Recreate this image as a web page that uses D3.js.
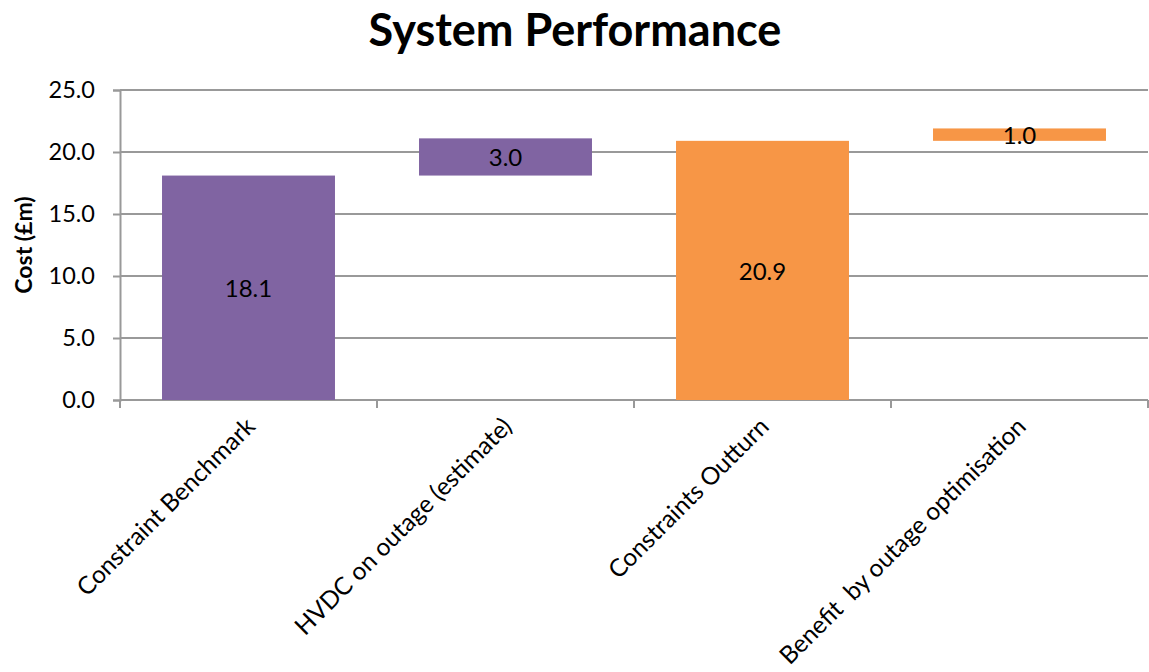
<!DOCTYPE html>
<html>
<head>
<meta charset="utf-8">
<script src="https://cdn.jsdelivr.net/npm/d3@7"></script>
<style>
  body { margin: 0; background: #fff; }
  text { font-family: Lato, "Open Sans", sans-serif; }
</style>
</head>
<body>
<div id="chart"></div>
<script>
// waterfall data
const categories = ["Constraint Benchmark", "HVDC on outage (estimate)", "Constraints Outturn", "Benefit  by outage optimisation"];
const bases = [0, 18.1, 0, 20.9];
const values = [18.1, 3.0, 20.9, 1.0];
const barColors = ["#8064a2", "#8064a2", "#f79646", "#f79646"];
const yTicks = [0, 5, 10, 15, 20, 25];

const width = 1149, height = 672;
const margin = {top: 90, right: 1, left: 120, bottom: 272};

const svg = d3.select("#chart").append("svg")
    .attr("width", width)
    .attr("height", height);

const x = d3.scaleBand()
    .domain(categories)
    .range([margin.left, width - margin.right])
    .paddingInner(0.327)
    .paddingOuter(0.1635);

const y = d3.scaleLinear()
    .domain([0, 25])
    .range([height - margin.bottom, margin.top]);

// grid
svg.append("g")
    .selectAll("line")
    .data(yTicks)
    .join("line")
    .attr("x1", margin.left)
    .attr("x2", width - margin.right)
    .attr("y1", d => y(d))
    .attr("y2", d => y(d))
    .attr("stroke", "#999")
    .attr("stroke-width", 2);

// y axis
const yAxis = svg.append("g")
    .attr("transform", `translate(${margin.left},0)`)
    .call(d3.axisLeft(y).tickValues(yTicks).tickFormat(d3.format(".1f")).tickSize(7).tickPadding(18));
yAxis.select(".domain").attr("stroke", "#999").attr("stroke-width", 2);
yAxis.selectAll(".tick line").attr("stroke", "#999").attr("stroke-width", 2);
yAxis.selectAll(".tick text")
    .attr("font-size", 23.5)
    .attr("fill", "#000")
    .style("font-family", "Lato, sans-serif");

// x axis ticks at category boundaries
const step = x.step();
const bounds = d3.range(categories.length + 1).map(i => margin.left + i * step);
svg.append("g")
    .selectAll("line")
    .data(bounds)
    .join("line")
    .attr("x1", d => d).attr("x2", d => d)
    .attr("y1", y(0)).attr("y2", y(0) + 8)
    .attr("stroke", "#999")
    .attr("stroke-width", 2);

// bars
svg.append("g")
    .selectAll("rect")
    .data(categories)
    .join("rect")
    .attr("x", d => x(d))
    .attr("width", x.bandwidth())
    .attr("y", (d, i) => y(bases[i] + values[i]))
    .attr("height", (d, i) => y(bases[i]) - y(bases[i] + values[i]))
    .attr("fill", (d, i) => barColors[i]);

// bar labels
svg.append("g")
    .selectAll("text")
    .data(categories)
    .join("text")
    .attr("x", d => x(d) + x.bandwidth() / 2)
    .attr("y", (d, i) => y(bases[i] + values[i] / 2) + 1)
    .attr("dy", "0.35em")
    .attr("text-anchor", "middle")
    .attr("font-size", 24)
    .text((d, i) => d3.format(".1f")(values[i]));

// category labels
svg.append("g")
    .selectAll("text")
    .data(categories)
    .join("text")
    .attr("transform", d => `translate(${x(d) + x.bandwidth() / 2 + 8},${y(0) + 28}) rotate(-45)`)
    .attr("text-anchor", "end")
    .attr("font-size", 24.5)
    .style("white-space", "pre")
    .text(d => d);

// axis title
svg.append("text")
    .attr("transform", `translate(32,${(y(0) + y(25)) / 2}) rotate(-90)`)
    .attr("text-anchor", "middle")
    .attr("font-size", 23)
    .attr("font-weight", "bold")
    .text("Cost (£m)");

// title
svg.append("text")
    .attr("x", 575)
    .attr("y", 46)
    .attr("text-anchor", "middle")
    .attr("font-size", 45)
    .attr("font-weight", "bold")
    .text("System Performance");
</script>
</body>
</html>
